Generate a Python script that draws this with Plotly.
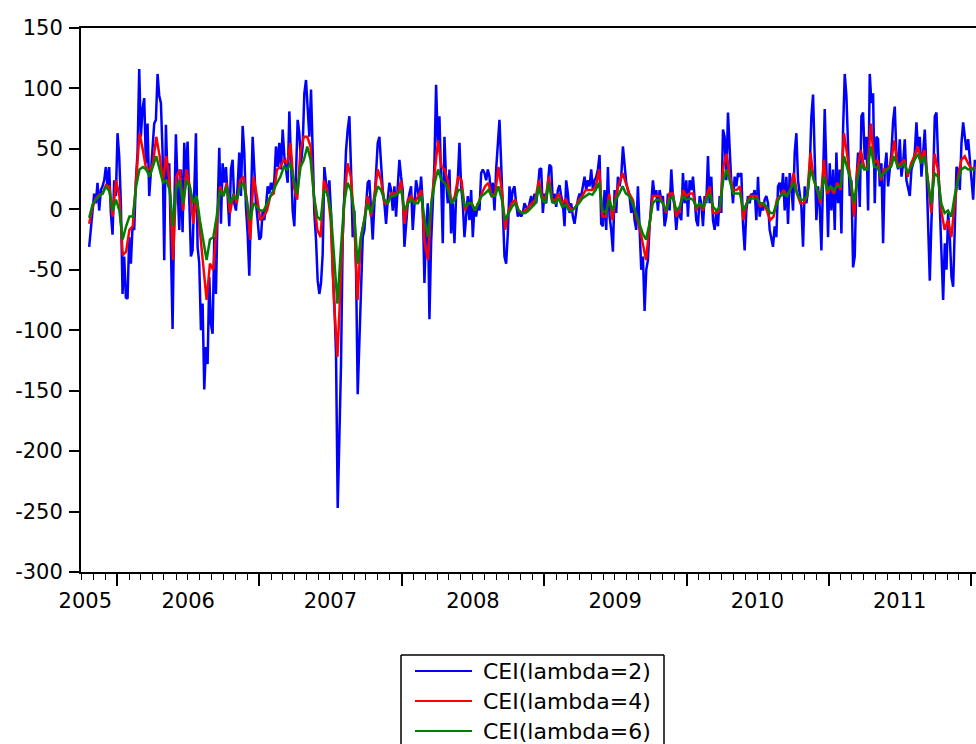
import plotly.graph_objects as go
import pandas as pd

# ---------------- data ----------------
blue = [
    # late 2005 - early 2007
    -31,-17,-6,13,5,22,-1,16,19,24,35,19,35,-3,-21,24,11,63,44,5,-70,-39,-73,-74,-23,-45,-14,-17,24,47,
    116,60,83,92,38,71,11,33,52,71,74,112,94,88,47,-42,70,24,38,-23,-99,-1,62,19,-17,33,-19,55,27,56,
    -1,-39,-34,16,63,-31,-45,-100,-78,-149,-114,-128,-56,-95,-103,-23,-70,-1,51,-12,38,22,35,11,-14,33,41,5,-1,19,
    47,11,69,47,2,-20,-55,5,60,33,5,-9,-25,-23,-1,-9,2,19,13,22,16,24,52,35,55,33,66,44,33,22,
    81,33,-1,-14,27,74,63,38,52,96,
    # 2007 - 2008
    107,83,60,99,47,-3,-25,-59,-70,-61,-37,35,22,11,24,-3,-50,-78,-120,-247,-189,-128,-23,11,49,66,77,33,-23,-1,
    -50,-153,-111,-78,-23,-17,2,22,24,-1,-25,5,35,55,60,33,16,5,-12,8,22,16,-1,19,-6,19,41,27,16,-31,
    -12,5,13,19,-17,2,24,16,8,27,5,-61,-17,5,-91,-28,5,38,103,55,77,33,-28,60,24,5,33,-20,5,-28,
    11,24,55,19,5,-23,-1,11,-9,16,-23,2,-6,5,-1,30,33,30,24,33,27,11,22,-1,33,52,74,38,-1,-39,
    -45,-20,19,5,16,19,5,-6,-1,-6,-3,5,2,
    # 2008 - 2010
    -1,5,11,2,13,5,16,33,34,-3,13,5,22,37,35,5,13,2,16,20,11,5,-14,24,13,-3,5,-6,-12,-1,
    8,13,11,19,27,16,24,19,33,16,24,27,33,45,-12,-14,16,-17,35,-6,-17,-35,16,-3,27,19,27,52,33,22,
    16,11,-3,8,-9,-17,19,-12,-50,-39,-84,-50,-42,-14,5,24,11,16,-1,16,8,11,-14,-6,13,-1,33,11,2,-17,
    -1,-6,-9,30,5,24,-6,24,16,27,11,-9,-14,11,5,-14,11,5,44,5,27,-9,-17,-1,-14,11,-3,66,60,24,
    80,49,22,5,27,19,30,27,30,-12,-34,-1,11,
    # 2010 - 2011
    5,13,11,16,-9,27,-6,5,-1,8,11,5,-17,-25,-31,-14,-23,19,22,11,30,-1,27,-12,30,19,-1,47,63,24,
    11,2,-31,19,5,16,33,77,95,33,-9,19,2,-34,19,83,33,-23,38,-1,33,-17,47,5,33,-20,66,112,94,47,
    11,24,-48,-39,24,47,2,77,80,41,60,-1,112,88,96,5,60,58,19,38,-28,33,47,19,33,47,73,85,44,33,
    58,27,38,58,24,16,11,33,38,47,72,47,60,27,44,66,33,-12,-59,-9,24,77,80,41,-1,-48,-75,-28,-50,-3,
    -23,-56,-64,-14,35,33,16,55,72,60,49,58,41,24,8,41,
]

red = [
    -12,2,9,12,13,20,19,-6,24,11,-38,-35,-17,-14,24,63,49,33,33,38,60,44,24,44,22,-42,27,33,-1,33,
    19,-12,11,-20,-50,-75,-45,-50,-14,19,11,22,-3,13,5,24,27,8,-25,27,11,-9,-6,-1,11,13,33,35,41,38,
    55,19,8,49,60,
    60,52,11,-17,-23,24,16,-9,-78,-122,-56,5,38,27,-9,-75,-23,-9,11,-6,11,33,24,5,5,13,13,13,24,-12,
    8,11,5,11,16,-28,-42,5,33,57,35,33,22,5,11,27,24,-1,5,5,-1,5,13,19,22,11,13,35,16,-17,
    -1,5,8,-1,-3,-1,
    2,5,8,24,11,8,27,8,8,13,5,8,2,-1,2,8,11,16,16,16,19,33,-6,-6,13,-9,11,22,30,22,
    13,8,-6,-14,-28,-42,-14,11,11,11,5,-3,13,13,-6,-1,16,11,13,13,-1,5,-1,11,19,-3,-3,-1,35,46,
    27,16,16,19,-9,5,
    11,11,11,2,5,-1,-9,-6,8,11,16,11,16,30,13,5,5,11,47,24,16,5,41,13,19,13,22,16,63,44,
    24,-6,33,49,35,33,71,38,41,24,33,33,38,57,35,38,41,27,38,44,52,41,49,24,-3,46,33,-1,-17,-9,
    -23,5,27,41,44,38,33,35,
]

green = [
    -7,4,8,11,13,19,15,-1,8,-1,-25,-14,-6,-6,19,33,35,33,27,35,44,33,22,24,16,-14,19,24,5,24,
    19,5,11,-9,-25,-42,-25,-23,-6,16,11,19,5,11,8,19,22,8,-9,5,2,-1,-1,5,11,16,22,27,35,33,
    38,24,13,35,41,
    52,41,11,-6,-9,16,13,-1,-39,-78,-34,5,22,16,-3,-45,-23,-9,5,-3,8,19,16,8,5,11,11,13,16,-1,
    5,8,5,5,11,-9,-23,5,22,33,24,22,16,5,8,16,16,2,5,5,-1,5,11,13,16,11,11,19,8,-9,
    -3,2,5,-1,-3,-3,
    -1,2,5,19,8,5,22,6,5,9,2,4,-1,-1,2,5,9,11,13,12,16,22,-1,-3,8,-1,8,13,19,13,
    11,5,-3,-12,-20,-25,-12,5,8,8,5,-1,8,11,-1,2,11,8,9,8,2,5,2,8,13,2,-1,2,24,33,
    22,13,13,13,-1,5,
    9,9,9,5,5,2,-3,-3,5,11,13,11,16,22,13,8,8,11,33,24,16,8,27,16,19,16,19,19,44,35,
    24,5,24,38,33,33,52,35,35,27,30,33,35,44,35,35,38,30,35,41,46,38,44,24,5,30,27,5,-3,-1,
    -6,11,24,33,35,33,33,33,
]

series_names = ["CEI(lambda=2)", "CEI(lambda=4)", "CEI(lambda=6)"]
series_colors = ["#0000FF", "#FF0000", "#008000"]
series_start = "2005-10-21"
series_end = "2012-01-11"

x_range = ["2005-09-30", "2012-01-14"]
year_ticks = ["2006-01-01", "2007-01-01", "2008-01-01", "2009-01-01",
              "2010-01-01", "2011-01-01", "2012-01-01"]
year_label_pos = ["2005-10-11", "2006-07-02", "2007-07-02", "2008-07-02",
                  "2009-07-02", "2010-07-02", "2011-07-02"]
year_labels = ["2005", "2006", "2007", "2008", "2009", "2010", "2011"]
y_ticks = [-300, -250, -200, -150, -100, -50, 0, 50, 100, 150]
y_tick_text = ["-300", "-250", "-200", "-150", "-100", "-50", "0", "50", "100", "150"]

# ---------------- figure ----------------
W, H = 976, 744
L, R, T, B = 81, 0, 28, 172
PW, PH = W - L - R, H - T - B

def px(xp):
    return (xp - L) / PW

def py(yp):
    return (H - B - yp) / PH

FONT = "DejaVu Sans"

fig = go.Figure()
for vals, name, col in zip([blue, red, green], series_names, series_colors):
    dates = pd.date_range(series_start, series_end, periods=len(vals))
    fig.add_trace(go.Scatter(x=dates, y=vals, mode="lines", name=name,
                             line=dict(color=col, width=2.5), showlegend=False))

# carrier trace so that the label axis (xaxis2) is drawn
fig.add_trace(go.Scatter(x=[year_label_pos[1]], y=[None], xaxis="x2", yaxis="y",
                         mode="lines", showlegend=False, hoverinfo="skip"))

fig.update_layout(
    width=W, height=H,
    margin=dict(l=L, r=R, t=T, b=B, pad=0),
    paper_bgcolor="white", plot_bgcolor="white",
    font=dict(family=FONT, size=21, color="black"),
    xaxis=dict(type="date", range=x_range, showgrid=False, zeroline=False,
               showline=True, linecolor="black", linewidth=2, mirror=True,
               tickmode="array", tickvals=year_ticks, showticklabels=False,
               ticks="outside", ticklen=12, tickwidth=1.5, tickcolor="black",
               minor=dict(ticks="outside", dtick="M1", ticklen=6, tickwidth=1.2,
                          tickcolor="black", showgrid=False)),
    xaxis2=dict(type="date", range=x_range, overlaying="x", anchor="y", side="bottom",
                showgrid=False, zeroline=False, showline=False, ticks="",
                tickmode="array", tickvals=year_label_pos, ticktext=year_labels,
                tickfont=dict(family=FONT, size=21, color="black"),
                ticklabelstandoff=14),
    yaxis=dict(range=[-300, 150], showgrid=False, zeroline=False,
               showline=True, linecolor="black", linewidth=2, mirror=False,
               tickmode="array", tickvals=y_ticks, ticktext=y_tick_text,
               ticks="outside", ticklen=10, tickwidth=1.5, tickcolor="black",
               tickfont=dict(family=FONT, size=21, color="black"),
               ticklabelstandoff=2),
)

# manual legend (box partly cut off by the bottom edge, as in the reference)
box_l, box_r, box_t, box_b = 401, 664, 655, 760
shapes = [
    dict(type="line", xref="paper", yref="paper", x0=px(box_l), x1=px(box_l),
         y0=py(box_t), y1=py(box_b), line=dict(color="black", width=1.5)),
    dict(type="line", xref="paper", yref="paper", x0=px(box_l), x1=px(box_r),
         y0=py(box_t), y1=py(box_t), line=dict(color="black", width=1.5)),
    dict(type="line", xref="paper", yref="paper", x0=px(box_r), x1=px(box_r),
         y0=py(box_t), y1=py(box_b), line=dict(color="black", width=1.5)),
]
annotations = []
row_y = [671, 701, 731]
for name, col, ry in zip(series_names, series_colors, row_y):
    shapes.append(dict(type="line", xref="paper", yref="paper",
                       x0=px(415), x1=px(472), y0=py(ry), y1=py(ry),
                       line=dict(color=col, width=2)))
    annotations.append(dict(xref="paper", yref="paper", x=px(481), y=py(ry),
                            text=name, showarrow=False, xanchor="left", yanchor="middle",
                            font=dict(family=FONT, size=22, color="black")))
fig.update_layout(shapes=shapes, annotations=annotations)

fig.write_html("out.html", config={"displayModeBar": False})
